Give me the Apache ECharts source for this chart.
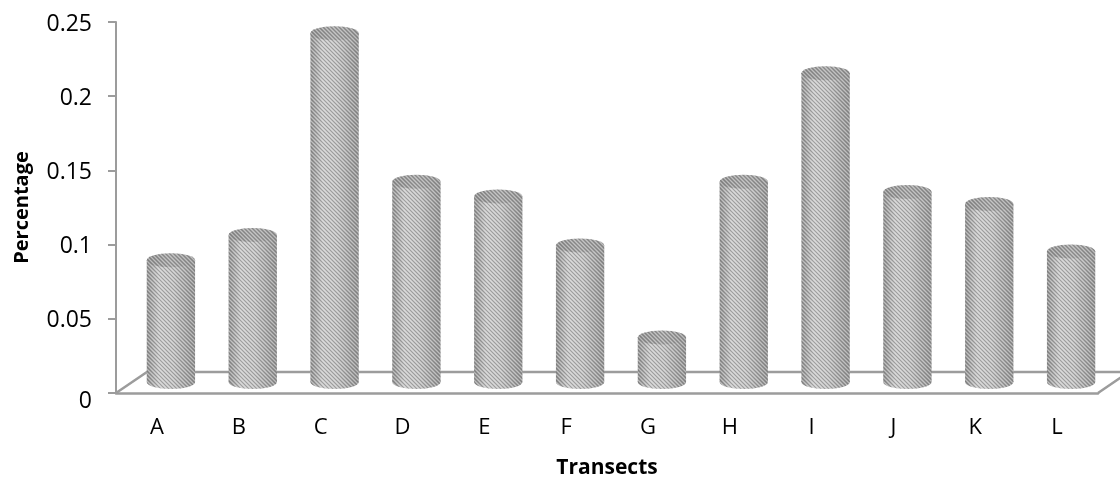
<!DOCTYPE html>
<html>
<head>
<meta charset="utf-8">
<script src="https://cdn.jsdelivr.net/npm/echarts@6/dist/echarts.min.js"></script>
<style>
  html, body { margin: 0; padding: 0; background: #fff; }
  #chart { width: 1120px; height: 479px; }
</style>
</head>
<body>
<div id="chart"></div>
<script>
// Transect labels and the share recorded at each one
const categories = ['A', 'B', 'C', 'D', 'E', 'F', 'G', 'H', 'I', 'J', 'K', 'L'];
const percentages = [0.082, 0.099, 0.235, 0.135, 0.125, 0.092, 0.030, 0.135, 0.208, 0.128, 0.120, 0.088];

// Value axis range
const yMin = 0;
const yMax = 0.25;
const yStep = 0.05;

// Pseudo-3D depth of the floor (pixels) and cylinder proportions
const FLOOR_DX = 31, FLOOR_DY = 21;
const BAR_DX = 14, BAR_DY = 11;
const BAR_RATIO = 0.295;
const CAP_RY = 7;
const LINE_GREY = '#9c9c9c';
const FONT = '"Open Sans", "Noto Sans", sans-serif';

// Fine diagonal hatching used as texture on the cylinders
function makeHatch() {
  const c = document.createElement('canvas');
  c.width = 4; c.height = 4;
  const g = c.getContext('2d');
  for (let i = 0; i < 4; i++) {
    g.fillStyle = 'rgba(70,70,70,0.30)';
    g.fillRect(i, i, 1, 1);
    g.fillStyle = 'rgba(255,255,255,0.35)';
    g.fillRect(i, (i + 2) % 4, 1, 1);
  }
  return c;
}
const hatch = { image: makeHatch(), repeat: 'repeat' };

const bodyGrad = {
  type: 'linear', x: 0, y: 0, x2: 1, y2: 0,
  colorStops: [
    { offset: 0, color: '#939393' },
    { offset: 0.25, color: '#c8c8c8' },
    { offset: 0.55, color: '#c2c2c2' },
    { offset: 1, color: '#959595' }
  ]
};
const capGrad = {
  type: 'linear', x: 0, y: 0, x2: 1, y2: 0,
  colorStops: [
    { offset: 0, color: '#949494' },
    { offset: 0.5, color: '#a8a8a8' },
    { offset: 1, color: '#9a9a9a' }
  ]
};

function renderFloor(params) {
  const cs = params.coordSys;
  const x0 = cs.x, y0 = cs.y + cs.height, x1 = cs.x + cs.width;
  return {
    type: 'polyline',
    shape: {
      points: [
        [x0, y0],
        [x0 + FLOOR_DX, y0 - FLOOR_DY],
        [x1 + FLOOR_DX, y0 - FLOOR_DY],
        [x1, y0]
      ]
    },
    style: { stroke: LINE_GREY, lineWidth: 2.5, fill: null }
  };
}

function renderCylinder(params, api) {
  const idx = api.value(0);
  const val = api.value(1);
  const base = api.coord([idx, 0]);
  const top = api.coord([idx, val]);
  const rx = api.size([1, 0])[0] * BAR_RATIO;
  const cx = base[0] + BAR_DX;
  const baseY = base[1] - BAR_DY;
  const topY = top[1] - BAR_DY;
  const body = { x: cx - rx, y: topY, width: rx * 2, height: baseY - topY };
  return {
    type: 'group',
    children: [
      { type: 'ellipse', shape: { cx: cx, cy: baseY, rx: rx, ry: CAP_RY }, style: { fill: bodyGrad } },
      { type: 'ellipse', shape: { cx: cx, cy: baseY, rx: rx, ry: CAP_RY }, style: { fill: hatch } },
      { type: 'rect', shape: body, style: { fill: bodyGrad } },
      { type: 'rect', shape: body, style: { fill: hatch } },
      { type: 'ellipse', shape: { cx: cx, cy: topY, rx: rx, ry: CAP_RY }, style: { fill: capGrad } },
      { type: 'ellipse', shape: { cx: cx, cy: topY, rx: rx, ry: CAP_RY }, style: { fill: hatch } }
    ]
  };
}

const chart = echarts.init(document.getElementById('chart'), null, { renderer: 'canvas' });
chart.setOption({
  animation: false,
  backgroundColor: '#ffffff',
  grid: { left: 116, right: 22, top: 22, bottom: 86, containLabel: false, outerBoundsMode: 'none' },
  xAxis: {
    type: 'category',
    data: categories,
    name: 'Transects',
    nameLocation: 'middle',
    nameGap: 65,
    nameTextStyle: { fontFamily: FONT, fontWeight: 'bold', fontSize: 21, color: '#000' },
    axisLine: { lineStyle: { color: LINE_GREY, width: 2.5 } },
    axisTick: { show: false },
    axisLabel: { fontFamily: FONT, fontSize: 22, color: '#000', margin: 24 },
    splitLine: { show: false }
  },
  yAxis: {
    type: 'value',
    min: yMin,
    max: yMax,
    interval: yStep,
    name: 'Percentage',
    nameLocation: 'middle',
    nameGap: 84,
    nameTextStyle: { fontFamily: FONT, fontWeight: 'bold', fontSize: 20, color: '#000' },
    axisLine: { show: true, lineStyle: { color: LINE_GREY, width: 2 } },
    axisTick: { show: true, inside: false, length: 8, lineStyle: { color: LINE_GREY, width: 2 } },
    axisLabel: {
      fontFamily: FONT, fontSize: 23, color: '#000', margin: 24, padding: [4, 0, 0, 0],
      formatter: function (v) { return v === 0 ? '{zero|0}' : String(v); },
      rich: { zero: { fontFamily: FONT, fontSize: 23, color: '#000', padding: [12, 0, 0, 0] } }
    },
    splitLine: { show: false }
  },
  series: [
    {
      name: 'floor',
      type: 'custom',
      renderItem: renderFloor,
      data: [[0, 0]],
      z: 1,
      silent: true
    },
    {
      name: 'Percentage',
      type: 'custom',
      renderItem: renderCylinder,
      encode: { x: 0, y: 1 },
      data: percentages.map(function (v, i) { return [i, v]; }),
      z: 2
    }
  ]
});
</script>
</body>
</html>
